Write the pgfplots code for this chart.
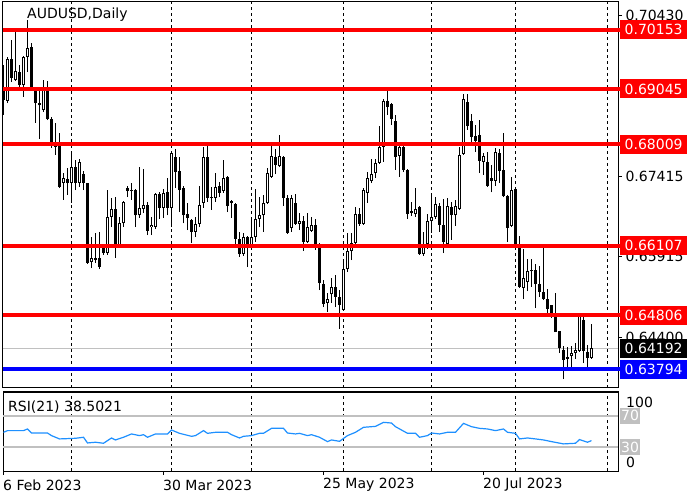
\documentclass[border=0pt]{standalone}
\usepackage{pgfplots}
\pgfplotsset{compat=1.18}
\usepackage{pgfplotstable}
\usepackage{fontspec}
\setmainfont{DejaVu Sans}
\definecolor{lvred}{RGB}{255,0,0}
\definecolor{lvblue}{RGB}{0,0,255}
\definecolor{silv}{RGB}{192,192,192}
\definecolor{rsiblue}{RGB}{30,144,255}
\newcommand{\lbl}{\fontsize{14}{16}\selectfont}
\pgfplotstableread{
i O H L C
0 0.6906 0.6949 0.6856 0.6884
1 0.6882 0.6964 0.6878 0.6961
2 0.6961 0.6996 0.6918 0.6925
3 0.6921 0.7011 0.6919 0.6938
4 0.6936 0.6949 0.6908 0.6912
5 0.6912 0.6966 0.6890 0.6964
6 0.6964 0.7034 0.6936 0.6981
7 0.6983 0.6991 0.6904 0.6906
8 0.6906 0.6906 0.6841 0.6878
9 0.6878 0.6904 0.6811 0.6874
10 0.6865 0.6921 0.6861 0.6903
11 0.6903 0.6919 0.6846 0.6848
12 0.6848 0.6852 0.6794 0.6805
13 0.6805 0.6841 0.6781 0.6796
14 0.6805 0.6822 0.6719 0.6721
15 0.6728 0.6747 0.6697 0.6738
16 0.6736 0.6757 0.6706 0.6728
17 0.6728 0.6785 0.6691 0.6758
18 0.6758 0.6772 0.6715 0.6728
19 0.6728 0.6773 0.6721 0.6768
20 0.6745 0.6751 0.6715 0.6728
21 0.6728 0.6728 0.6577 0.6579
22 0.6580 0.6627 0.6569 0.6588
23 0.6588 0.6635 0.6579 0.6584
24 0.6588 0.6637 0.6567 0.6571
25 0.6607 0.6608 0.6594 0.6597
26 0.6597 0.6715 0.6594 0.6665
27 0.6665 0.6700 0.6646 0.6680
28 0.6680 0.6702 0.6588 0.6612
29 0.6612 0.6665 0.6608 0.6653
30 0.6653 0.6695 0.6646 0.6693
31 0.6719 0.6723 0.6702 0.6713
32 0.6715 0.6728 0.6697 0.6713
33 0.6715 0.6717 0.6646 0.6668
34 0.6668 0.6758 0.6663 0.6682
35 0.6680 0.6755 0.6672 0.6687
36 0.6687 0.6693 0.6631 0.6639
37 0.6646 0.6665 0.6631 0.6650
38 0.6646 0.6710 0.6642 0.6708
39 0.6708 0.6711 0.6661 0.6682
40 0.6682 0.6717 0.6663 0.6710
41 0.6711 0.6738 0.6668 0.6682
42 0.6682 0.6785 0.6646 0.6785
43 0.6777 0.6792 0.6719 0.6749
44 0.6751 0.6777 0.6674 0.6715
45 0.6719 0.6723 0.6653 0.6668
46 0.6670 0.6691 0.6640 0.6663
47 0.6659 0.6661 0.6616 0.6637
48 0.6637 0.6665 0.6627 0.6652
49 0.6652 0.6723 0.6646 0.6687
50 0.6691 0.6796 0.6682 0.6777
51 0.6777 0.6798 0.6693 0.6700
52 0.6700 0.6721 0.6678 0.6702
53 0.6700 0.6747 0.6693 0.6721
54 0.6723 0.6730 0.6702 0.6710
55 0.6713 0.6772 0.6710 0.6738
56 0.6740 0.6742 0.6674 0.6685
57 0.6695 0.6697 0.6663 0.6691
58 0.6689 0.6691 0.6612 0.6624
59 0.6624 0.6637 0.6590 0.6595
60 0.6595 0.6635 0.6592 0.6627
61 0.6627 0.6629 0.6571 0.6608
62 0.6612 0.6665 0.6608 0.6627
63 0.6627 0.6717 0.6618 0.6661
64 0.6661 0.6702 0.6646 0.6668
65 0.6668 0.6706 0.6637 0.6691
66 0.6691 0.6757 0.6689 0.6747
67 0.6740 0.6798 0.6738 0.6779
68 0.6777 0.6792 0.6745 0.6762
69 0.6760 0.6818 0.6758 0.6779
70 0.6777 0.6779 0.6685 0.6700
71 0.6700 0.6706 0.6633 0.6635
72 0.6644 0.6706 0.6637 0.6700
73 0.6691 0.6708 0.6650 0.6652
74 0.6652 0.6672 0.6640 0.6657
75 0.6657 0.6667 0.6602 0.6618
76 0.6618 0.6672 0.6616 0.6646
77 0.6639 0.6665 0.6637 0.6650
78 0.6650 0.6661 0.6603 0.6612
79 0.6612 0.6616 0.6528 0.6541
80 0.6539 0.6547 0.6496 0.6502
81 0.6504 0.6522 0.6487 0.6511
82 0.6520 0.6551 0.6504 0.6534
83 0.6534 0.6556 0.6496 0.6515
84 0.6515 0.6528 0.6455 0.6500
85 0.6491 0.6584 0.6489 0.6567
86 0.6567 0.6635 0.6562 0.6601
87 0.6601 0.6635 0.6584 0.6616
88 0.6616 0.6684 0.6614 0.6670
89 0.6670 0.6682 0.6648 0.6652
90 0.6652 0.6719 0.6650 0.6715
91 0.6710 0.6749 0.6691 0.6738
92 0.6732 0.6773 0.6728 0.6745
93 0.6747 0.6773 0.6738 0.6766
94 0.6766 0.6835 0.6764 0.6796
95 0.6796 0.6886 0.6768 0.6882
96 0.6882 0.6901 0.6856 0.6871
97 0.6876 0.6878 0.6837 0.6848
98 0.6845 0.6856 0.6753 0.6777
99 0.6779 0.6798 0.6740 0.6796
100 0.6796 0.6798 0.6749 0.6753
101 0.6753 0.6755 0.6661 0.6670
102 0.6676 0.6693 0.6667 0.6672
103 0.6670 0.6719 0.6665 0.6680
104 0.6684 0.6685 0.6594 0.6595
105 0.6595 0.6637 0.6592 0.6614
106 0.6614 0.6670 0.6605 0.6657
107 0.6657 0.6704 0.6635 0.6665
108 0.6665 0.6702 0.6661 0.6689
109 0.6685 0.6691 0.6637 0.6650
110 0.6650 0.6698 0.6597 0.6618
111 0.6614 0.6700 0.6612 0.6685
112 0.6684 0.6693 0.6622 0.6668
113 0.6668 0.6697 0.6648 0.6685
114 0.6680 0.6796 0.6678 0.6781
115 0.6783 0.6895 0.6781 0.6886
116 0.6880 0.6895 0.6828 0.6835
117 0.6845 0.6858 0.6805 0.6815
118 0.6817 0.6837 0.6786 0.6807
119 0.6818 0.6846 0.6747 0.6770
120 0.6768 0.6785 0.6744 0.6779
121 0.6768 0.6787 0.6721 0.6723
122 0.6738 0.6762 0.6711 0.6732
123 0.6732 0.6794 0.6723 0.6787
124 0.6785 0.6792 0.6728 0.6751
125 0.6753 0.6822 0.6702 0.6704
126 0.6704 0.6706 0.6618 0.6644
127 0.6648 0.6740 0.6646 0.6715
128 0.6717 0.6717 0.6607 0.6608
129 0.6608 0.6629 0.6532 0.6534
130 0.6532 0.6605 0.6511 0.6550
131 0.6543 0.6586 0.6526 0.6563
132 0.6563 0.6586 0.6534 0.6565
133 0.6565 0.6577 0.6494 0.6539
134 0.6539 0.6573 0.6515 0.6524
135 0.6524 0.6614 0.6509 0.6511
136 0.6511 0.6530 0.6485 0.6492
137 0.6500 0.6500 0.6476 0.6483
138 0.6483 0.6522 0.6449 0.6449
139 0.6451 0.6451 0.6410 0.6419
140 0.6416 0.6423 0.6361 0.6397
141 0.6402 0.6421 0.6382 0.6399
142 0.6404 0.6423 0.6382 0.6410
143 0.6410 0.6429 0.6399 0.6416
144 0.6414 0.6485 0.6412 0.6481
145 0.6472 0.6485 0.6391 0.6414
146 0.6412 0.6425 0.6382 0.6401
147 0.6401 0.6464 0.6399 0.64192
}\candles
\pgfplotstableread{
i r
0 49.0
1 51.1
5 51.1
6 53.2
7 48.1
11 48.1
12 44.8
14 40.6
18 41.4
20 42.7
21 35.5
23 36.4
25 35.1
27 41.8
28 39.3
30 42.7
32 46.9
34 44.8
35 46.0
36 42.7
38 46.9
41 46.9
42 51.9
44 47.7
47 43.9
48 44.8
50 51.1
51 47.7
53 49.0
56 49.0
57 46.0
59 41.8
60 43.9
62 44.8
64 47.7
65 47.7
67 54.0
70 54.0
71 48.1
73 46.9
74 47.7
76 44.8
77 46.0
79 42.7
81 37.2
82 39.3
84 37.6
86 44.8
88 49.0
90 55.3
93 56.5
95 61.6
97 60.7
98 56.1
101 47.7
103 47.7
104 42.7
106 44.8
107 48.1
109 46.9
111 49.0
113 49.0
115 60.3
117 56.1
119 54.0
121 53.2
123 51.1
125 53.2
126 49.0
128 47.7
129 40.6
131 41.8
133 40.6
135 39.3
137 37.2
140 34.3
143 35.1
144 39.8
146 36.4
147 38.5
}\rsi
\begin{document}
\begin{tikzpicture}[x=1pt,y=1pt]
\fill[white] (0,0) rectangle (700,500);
\path[use as bounding box] (0,0) rectangle (700,500);
\begin{axis}[
  name=main,
  at={(3pt,112pt)}, anchor=south west,
  scale only axis, width=615pt, height=386pt,
  xmin=-0.125, xmax=153.625, ymin=0.63445, ymax=0.70674,
  axis line style={line width=1pt},
  xtick={17,42,62,85,107,128,151}, xticklabels={},
  xtick style={draw=none},
  xmajorgrids, major x grid style={black, line width=1pt, dash pattern=on 3pt off 3pt},
  ytick={0.64400,0.65915,0.67415,0.70430},
  yticklabels={0.64400,0.65915,0.67415,0.70430},
  ytick pos=right, yticklabel pos=right,
  tick align=outside, major tick length=4pt,
  ytick style={black, line width=0.8pt},
  yticklabel style={font=\lbl, text=black},
  clip=false,
]
\addplot[silv, line width=1pt] coordinates {(-0.125,0.64192) (153.625,0.64192)};
\addplot[draw=none, mark=none, error bars/.cd, y dir=plus, y explicit, error mark=none,
  error bar style={draw=black, line width=1pt}]
  table[x=i, y=L, y error plus expr=\thisrow{H}-\thisrow{L}] {\candles};
\addplot[draw=none, mark=none, error bars/.cd, y dir=plus, y explicit, error mark=none,
  error bar style={draw=black, line width=3pt}]
  table[x=i, y expr={min(\thisrow{O},\thisrow{C})}, y error plus expr={max(abs(\thisrow{C}-\thisrow{O}),0.00019)}] {\candles};
\addplot[draw=none, mark=none, error bars/.cd, y dir=plus, y explicit, error mark=none,
  error bar style={draw=white, line width=1.1pt}]
  table[x=i, y expr={\thisrow{O}+0.00019}, y error plus expr={max(\thisrow{C}-\thisrow{O}-0.00038,0)}] {\candles};
\addplot[lvred, line width=4pt] coordinates {(-0.125,0.70153) (154.2,0.70153)};
\addplot[lvred, line width=4pt] coordinates {(-0.125,0.69045) (154.2,0.69045)};
\addplot[lvred, line width=4pt] coordinates {(-0.125,0.68009) (154.2,0.68009)};
\addplot[lvred, line width=4pt] coordinates {(-0.125,0.66107) (154.2,0.66107)};
\addplot[lvred, line width=4pt] coordinates {(-0.125,0.64806) (154.2,0.64806)};
\addplot[lvblue, line width=4pt] coordinates {(-0.125,0.63794) (154.2,0.63794)};
\coordinate (L1) at (axis cs:153.625,0.70153);
\coordinate (L2) at (axis cs:153.625,0.69045);
\coordinate (L3) at (axis cs:153.625,0.68009);
\coordinate (L4) at (axis cs:153.625,0.66107);
\coordinate (L5) at (axis cs:153.625,0.64806);
\coordinate (L6) at (axis cs:153.625,0.64192);
\coordinate (L7) at (axis cs:153.625,0.63794);
\end{axis}
\begin{axis}[
  at={(3pt,29pt)}, anchor=south west,
  scale only axis, width=615pt, height=79pt,
  xmin=-0.125, xmax=153.625, ymin=0, ymax=100,
  axis line style={line width=1pt},
  xtick={17,42,62,85,107,128,151}, xticklabels={},
  xtick style={draw=none},
  xmajorgrids, major x grid style={black, line width=1pt, dash pattern=on 3pt off 3pt},
  ytick=\empty, clip=false,
]
\addplot[silv, line width=1.8pt] coordinates {(-0.125,70) (153.625,70)};
\addplot[silv, line width=1.8pt] coordinates {(-0.125,30) (153.625,30)};
\addplot[rsiblue, line width=1.2pt] table[x=i, y=r] {\rsi};
\coordinate (T0) at (axis cs:0,0);
\coordinate (T1) at (axis cs:40,0);
\coordinate (T2) at (axis cs:80,0);
\coordinate (T3) at (axis cs:120,0);
\coordinate (R70) at (axis cs:153.625,70);
\coordinate (R30) at (axis cs:153.625,30);
\end{axis}
\tikzset{pl/.style={anchor=west, inner xsep=4.5pt, inner ysep=0pt, minimum height=19pt, font=\lbl, text=white}}
\node[pl, fill=lvred] at ([xshift=2pt]L1) {0.70153};
\node[pl, fill=lvred] at ([xshift=2pt]L2) {0.69045};
\node[pl, fill=lvred] at ([xshift=2pt]L3) {0.68009};
\node[pl, fill=lvred] at ([xshift=2pt]L4) {0.66107};
\node[pl, fill=lvred] at ([xshift=2pt]L5) {0.64806};
\node[pl, fill=black] at ([xshift=2pt]L6) {0.64192};
\node[pl, fill=lvblue] at ([xshift=2pt]L7) {0.63794};
\node[pl, fill=silv, inner xsep=1pt, minimum height=16pt] at ([xshift=2pt]R70) {70};
\node[pl, fill=silv, inner xsep=1pt, minimum height=16pt] at ([xshift=2pt]R30) {30};
\node[anchor=west, inner sep=0pt, font=\lbl] at (626,98) {100};
\node[anchor=west, inner sep=0pt, font=\lbl] at (626,38) {0};
\foreach \t in {T0,T1,T2,T3} \draw[line width=1pt] (\t) -- ++(0,-4);
\node[anchor=west, inner sep=0pt, font=\lbl] at (3,15) {6 Feb 2023};
\node[anchor=west, inner sep=0pt, font=\lbl] at (163,15) {30 Mar 2023};
\node[anchor=west, inner sep=0pt, font=\lbl] at (323,15) {25 May 2023};
\node[anchor=west, inner sep=0pt, font=\lbl] at (483,15) {20 Jul 2023};
\node[anchor=west, inner sep=0pt, font=\lbl] at (27,485) {AUDUSD,Daily};
\node[anchor=west, inner sep=0pt, font=\lbl] at (8,93) {RSI(21) 38.5021};
\end{tikzpicture}
\end{document}
